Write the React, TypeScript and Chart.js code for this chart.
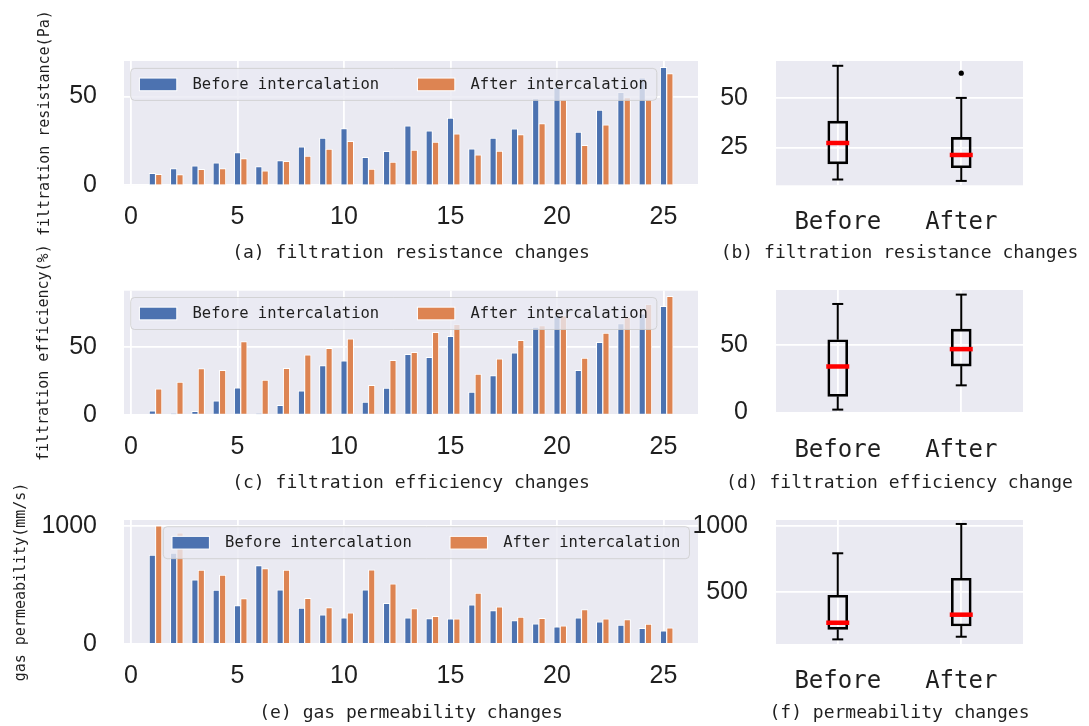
import React, { useEffect, useRef } from "react";
import { Chart, registerables } from "chart.js";

Chart.register(...registerables);

// ---------------- data ----------------
const sampleNo = [1, 2, 3, 4, 5, 6, 7, 8, 9, 10, 11, 12, 13, 14, 15, 16, 17, 18, 19, 20, 21, 22, 23, 24, 25];
const seriesLabels = ["Before intercalation", "After intercalation"];

const resistBefore = [6.7, 9.4, 10.9, 12.7, 18.4, 10.5, 13.9, 21.7, 26.6, 32.0, 15.7, 19.1, 33.5, 30.7, 37.8, 20.6, 26.6, 31.8, 48.9, 55.2, 30.0, 42.3, 52.4, 60.5, 66.5];
const resistAfter = [6.2, 6.0, 9.0, 9.4, 15.0, 8.2, 13.5, 16.5, 20.4, 24.7, 9.2, 13.1, 19.9, 24.3, 29.0, 17.2, 19.3, 28.5, 34.8, 48.3, 22.5, 34.1, 49.4, 48.3, 62.9];
const effBefore = [2.9, 0.5, 2.5, 10.3, 19.9, 0.5, 6.9, 17.6, 36.3, 39.7, 9.3, 19.6, 44.6, 42.4, 57.8, 16.7, 28.9, 45.6, 64.7, 73.5, 32.8, 53.4, 67.2, 74.5, 79.9];
const effAfter = [19.1, 24.0, 34.1, 32.8, 53.9, 25.5, 34.3, 44.1, 49.0, 55.9, 21.6, 40.2, 46.1, 60.8, 66.7, 29.9, 41.2, 54.9, 65.7, 73.0, 41.7, 60.3, 72.1, 81.4, 87.3];
const permBefore = [753, 770, 543, 457, 325, 664, 459, 305, 246, 221, 459, 345, 221, 216, 213, 331, 283, 199, 171, 146, 221, 188, 160, 132, 112];
const permAfter = [1000, 941, 625, 583, 384, 639, 625, 387, 308, 263, 627, 510, 300, 235, 213, 431, 314, 227, 218, 154, 291, 213, 207, 168, 137];

const barXTicks = [0, 5, 10, 15, 20, 25];
const resistYTicks = [0, 50];
const effYTicks = [0, 50];
const permYTicks = [0, 1000];

const boxCategories = ["Before", "After"];
// [whisker low, Q1, median, Q3, whisker high]
const resistBoxBefore = [9.0, 16.8, 27.3, 38.3, 66.0];
const resistBoxAfter = [8.3, 14.9, 21.3, 30.1, 49.9];
const resistOutliers = [null, 62.3];
const effBoxBefore = [2.2, 12.0, 34.0, 53.7, 80.1];
const effBoxAfter = [20.1, 34.3, 46.8, 61.5, 87.0];
const permBoxBefore = [139, 215, 265, 473, 791];
const permBoxAfter = [159, 240, 326, 602, 1013];
const resistBoxTicks = [25, 50];
const effBoxTicks = [0, 50];
const permBoxTicks = [500, 1000];

const captions = {
  a: "(a) filtration resistance changes",
  b: "(b) filtration resistance changes",
  c: "(c) filtration efficiency changes",
  d: "(d) filtration efficiency change",
  e: "(e) gas permeability changes",
  f: "(f) permeability changes",
};
const yTitles = {
  a: "filtration resistance(Pa)",
  c: "filtration efficiency(%)",
  e: "gas permeability(mm/s)",
};

// ---------------- style ----------------
const BLUE = "#4C72B0";
const ORANGE = "#DD8452";
const FACE = "#EAEAF2";
const TEXT = "#1f1f1f";
const MONO = '"DejaVu Sans Mono", monospace';
const SANS = '"Liberation Sans", Arial, sans-serif';

type Rect = { x: number; y: number; w: number; h: number };
type Plot = { l: number; t: number; r: number; b: number };

const facePlugin = {
  id: "face",
  beforeDraw(chart: any) {
    const { ctx, chartArea: a } = chart;
    ctx.save();
    ctx.fillStyle = FACE;
    ctx.fillRect(a.left, a.top, a.right - a.left, a.bottom - a.top);
    ctx.restore();
  },
};

const captionPlugin = {
  id: "captions",
  afterDraw(chart: any, _args: any, opts: any) {
    const { ctx, chartArea: a } = chart;
    ctx.save();
    ctx.fillStyle = TEXT;
    ctx.textAlign = "center";
    ctx.textBaseline = "middle";
    if (opts.x) {
      ctx.font = `${opts.xSize}px ${MONO}`;
      ctx.fillText(opts.x, (a.left + a.right) / 2, a.bottom + opts.xOffset);
    }
    if (opts.y) {
      ctx.translate(a.left - opts.yOffset, (a.top + a.bottom) / 2);
      ctx.rotate(-Math.PI / 2);
      ctx.font = `${opts.ySize}px ${MONO}`;
      ctx.fillText(opts.y, 0, 0);
    }
    ctx.restore();
  },
};

const legendPlugin = {
  id: "innerLegend",
  afterDatasetsDraw(chart: any, _args: any, opts: any) {
    if (!opts || opts.dx === undefined) return;
    const { ctx, chartArea: a } = chart;
    const ds = chart.data.datasets;
    ctx.save();
    ctx.font = `15.5px ${MONO}`;
    const padL = 8.7, handleW = 37.4, handleH = 12.7, gap = 15.7, colGap = 38.3, padR = 9, h = 32;
    const widths = ds.map((d: any) => ctx.measureText(d.label).width);
    let totalW = padL + padR + colGap * (ds.length - 1);
    widths.forEach((w: number) => (totalW += handleW + gap + w));
    const left = a.left + opts.dx;
    const top = a.top + opts.dy;
    ctx.beginPath();
    ctx.roundRect(left, top, totalW, h, 4);
    ctx.fillStyle = "rgba(234,234,242,0.8)";
    ctx.fill();
    ctx.strokeStyle = "rgba(204,204,204,0.8)";
    ctx.lineWidth = 1;
    ctx.stroke();
    let x = left + padL;
    ds.forEach((d: any, i: number) => {
      const hy = top + (h - handleH) / 2;
      ctx.fillStyle = d.backgroundColor;
      ctx.fillRect(x, hy, handleW, handleH);
      ctx.strokeStyle = "#fff";
      ctx.lineWidth = 1;
      ctx.strokeRect(x, hy, handleW, handleH);
      ctx.fillStyle = TEXT;
      ctx.textAlign = "left";
      ctx.textBaseline = "middle";
      ctx.fillText(d.label, x + handleW + gap, top + h / 2 + 0.5);
      x += handleW + gap + widths[i] + colGap;
    });
    ctx.restore();
  },
};

const boxPlugin = {
  id: "boxExtras",
  afterDatasetsDraw(chart: any, _args: any, opts: any) {
    if (!opts || !opts.stats) return;
    const { ctx, scales } = chart;
    const xs = scales.x, ys = scales.y;
    const Y = (v: number) => ys.getPixelForValue(v);
    const line = (x1: number, y1: number, x2: number, y2: number) => {
      ctx.beginPath();
      ctx.moveTo(x1, y1);
      ctx.lineTo(x2, y2);
      ctx.stroke();
    };
    ctx.save();
    ctx.lineCap = "butt";
    for (let i = 0; i < opts.stats.length; i++) {
      const s = opts.stats[i];
      const cx = xs.getPixelForValue(i);
      ctx.strokeStyle = "#000";
      ctx.lineWidth = 2;
      line(cx, Y(s[3]), cx, Y(s[4]));
      line(cx, Y(s[1]), cx, Y(s[0]));
      line(cx - 5.5, Y(s[4]), cx + 5.5, Y(s[4]));
      line(cx - 5.5, Y(s[0]), cx + 5.5, Y(s[0]));
      ctx.strokeStyle = "#ff0000";
      ctx.lineWidth = 4.5;
      line(cx - 11.5, Y(s[2]), cx + 11.5, Y(s[2]));
    }
    ctx.restore();
  },
};

function geometry(canvas: Rect, plot: Plot) {
  return {
    padding: { top: plot.t - canvas.y, right: canvas.x + canvas.w - plot.r, left: 0, bottom: 0 },
    yW: plot.l - canvas.x,
    xH: canvas.y + canvas.h - plot.b,
  };
}

const gridOpts = { color: "#ffffff", lineWidth: 1.8, drawTicks: false, offset: false };

function barConfig(p: any) {
  const g = geometry(p.canvas, p.plot);
  const mk = (vals: number[], shift: number) => sampleNo.map((n, i) => ({ x: n + shift, y: vals[i] }));
  return {
    type: "bar",
    data: {
      datasets: [
        { label: seriesLabels[0], data: mk(p.before, 0), backgroundColor: BLUE, borderColor: "#fff", borderWidth: 1, barThickness: 6.5, grouped: false, order: 1 },
        { label: seriesLabels[1], data: mk(p.after, 0.3), backgroundColor: ORANGE, borderColor: "#fff", borderWidth: 1, barThickness: 6.5, grouped: false, order: 0 },
      ],
    },
    options: {
      responsive: false,
      animation: false,
      events: [],
      layout: { padding: g.padding },
      plugins: {
        legend: { display: false },
        tooltip: { enabled: false },
        innerLegend: { dx: p.legendDx, dy: p.legendDy },
        captions: { x: p.caption, xOffset: p.capOffset, xSize: 18, y: p.yTitle, yOffset: p.yTitleOffset, ySize: 15 },
      },
      scales: {
        x: {
          type: "linear",
          bounds: "data",
          min: -0.33,
          max: 26.62,
          offset: false,
          grid: gridOpts,
          border: { display: false },
          afterBuildTicks: (s: any) => { s.ticks = barXTicks.map((v) => ({ value: v })); },
          afterFit: (s: any) => { s.height = g.xH; },
          ticks: { autoSkip: false, maxRotation: 0, padding: 17, color: TEXT, font: { family: SANS, size: 25 }, callback: (v: any) => String(v) },
        },
        y: {
          type: "linear",
          bounds: "data",
          min: 0,
          max: p.yMax,
          grid: gridOpts,
          border: { display: false },
          afterBuildTicks: (s: any) => { s.ticks = p.yTicks.map((v: number) => ({ value: v })); },
          afterFit: (s: any) => { s.width = g.yW; },
          ticks: { padding: 27, color: TEXT, font: { family: SANS, size: 25 }, callback: (v: any) => String(v) },
        },
      },
    },
    plugins: [facePlugin, legendPlugin, captionPlugin],
  };
}

function boxConfig(p: any) {
  const g = geometry(p.canvas, p.plot);
  const datasets: any[] = [
    {
      type: "bar",
      label: "box",
      data: p.stats.map((s: number[]) => [s[1], s[3]]),
      backgroundColor: "rgba(0,0,0,0)",
      borderColor: "#000",
      borderWidth: 2,
      borderSkipped: false,
      barThickness: 20,
    },
  ];
  if (p.outliers) {
    datasets.push({
      type: "line",
      label: "outliers",
      data: p.outliers,
      showLine: false,
      pointRadius: 2.6,
      pointBackgroundColor: "#000",
      pointBorderColor: "#000",
      pointBorderWidth: 0,
      borderColor: "#000",
    });
  }
  return {
    type: "bar",
    data: { labels: boxCategories, datasets },
    options: {
      responsive: false,
      animation: false,
      events: [],
      layout: { padding: g.padding },
      plugins: {
        legend: { display: false },
        tooltip: { enabled: false },
        boxExtras: { stats: p.stats },
        captions: { x: p.caption, xOffset: p.capOffset, xSize: 18 },
      },
      scales: {
        x: {
          type: "category",
          offset: true,
          grid: gridOpts,
          border: { display: false },
          afterFit: (s: any) => { s.height = g.xH; },
          ticks: { autoSkip: false, maxRotation: 0, padding: 23, color: TEXT, font: { family: MONO, size: 24 } },
        },
        y: {
          type: "linear",
          bounds: "data",
          min: p.yMin,
          max: p.yMax,
          grid: gridOpts,
          border: { display: false },
          afterBuildTicks: (s: any) => { s.ticks = p.yTicks.map((v: number) => ({ value: v })); },
          afterFit: (s: any) => { s.width = g.yW; },
          ticks: { padding: 28, color: TEXT, font: { family: SANS, size: 25 }, callback: (v: any) => String(v) },
        },
      },
    },
    plugins: [facePlugin, boxPlugin, captionPlugin],
  };
}

// ---------------- panels ----------------
const barCanvasRow = [
  { x: 0, y: 0, w: 720, h: 270 },
  { x: 0, y: 230, w: 720, h: 270 },
  { x: 0, y: 456, w: 720, h: 270 },
];
const boxCanvasRow = [
  { x: 600, y: 0, w: 489, h: 270 },
  { x: 600, y: 230, w: 489, h: 270 },
  { x: 600, y: 456, w: 489, h: 270 },
];

const panels: { rect: Rect; make: () => any }[] = [
  {
    rect: barCanvasRow[0],
    make: () => barConfig({
      canvas: barCanvasRow[0], plot: { l: 124, t: 61, r: 698, b: 185.3 },
      before: resistBefore, after: resistAfter, yMax: 70, yTicks: resistYTicks,
      legendDx: 6.7, legendDy: 7.4, caption: captions.a, capOffset: 67.7,
      yTitle: yTitles.a, yTitleOffset: 79,
    }),
  },
  {
    rect: barCanvasRow[1],
    make: () => barConfig({
      canvas: barCanvasRow[1], plot: { l: 124, t: 290.7, r: 698, b: 414.7 },
      before: effBefore, after: effAfter, yMax: 91.5, yTicks: effYTicks,
      legendDx: 6.7, legendDy: 6.8, caption: captions.c, capOffset: 68.3,
      yTitle: yTitles.c, yTitleOffset: 80,
    }),
  },
  {
    rect: barCanvasRow[2],
    make: () => barConfig({
      canvas: barCanvasRow[2], plot: { l: 124, t: 520, r: 698, b: 644 },
      before: permBefore, after: permAfter, yMax: 1050, yTicks: permYTicks,
      legendDx: 39.3, legendDy: 6.7, caption: captions.e, capOffset: 69,
      yTitle: yTitles.e, yTitleOffset: 103,
    }),
  },
  {
    rect: boxCanvasRow[0],
    make: () => boxConfig({
      canvas: boxCanvasRow[0], plot: { l: 776, t: 61, r: 1023, b: 185.3 },
      stats: [resistBoxBefore, resistBoxAfter], outliers: resistOutliers,
      yMin: 6.1, yMax: 68.4, yTicks: resistBoxTicks, caption: captions.b, capOffset: 67.7,
    }),
  },
  {
    rect: boxCanvasRow[1],
    make: () => boxConfig({
      canvas: boxCanvasRow[1], plot: { l: 776, t: 290, r: 1023, b: 413 },
      stats: [effBoxBefore, effBoxAfter], outliers: null,
      yMin: -0.3, yMax: 90.4, yTicks: effBoxTicks, caption: captions.d, capOffset: 70,
    }),
  },
  {
    rect: boxCanvasRow[2],
    make: () => boxConfig({
      canvas: boxCanvasRow[2], plot: { l: 776, t: 520, r: 1023, b: 644 },
      stats: [permBoxBefore, permBoxAfter], outliers: null,
      yMin: 104, yMax: 1043, yTicks: permBoxTicks, caption: captions.f, capOffset: 69,
    }),
  },
];

function ChartCanvas({ rect, make }: { rect: Rect; make: () => any }) {
  const ref = useRef<HTMLCanvasElement>(null);
  useEffect(() => {
    const chart = new Chart(ref.current as HTMLCanvasElement, make());
    return () => chart.destroy();
  }, []);
  return (
    <canvas
      ref={ref}
      width={rect.w}
      height={rect.h}
      style={{ position: "absolute", left: rect.x, top: rect.y, width: rect.w, height: rect.h }}
    />
  );
}

export default function App() {
  return (
    <div style={{ position: "absolute", left: 0, top: 0, width: 1089, height: 726, background: "#fff", overflow: "hidden" }}>
      {panels.map((p, i) => (
        <ChartCanvas key={i} rect={p.rect} make={p.make} />
      ))}
    </div>
  );
}
